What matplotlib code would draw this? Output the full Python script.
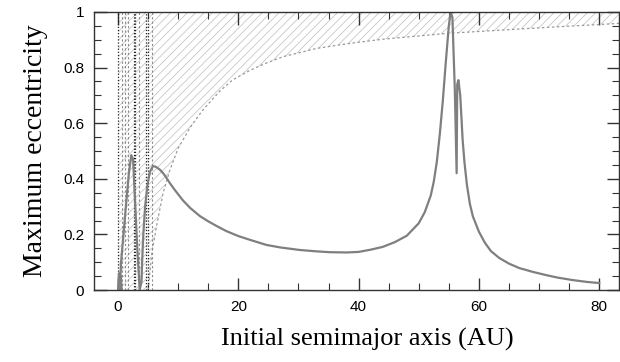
import numpy as np
import matplotlib.pyplot as plt

# max eccentricity curve
a_curve = [0.0, 0.15, 0.3, 0.45, 0.6, 0.3, 0.5, 0.9, 1.3, 1.8, 2.2, 2.5, 2.8, 3.2, 3.6,
           3.9, 4.0, 4.2, 4.5, 4.9, 5.3, 5.8, 6.3, 7.0, 7.5, 8.0, 8.6, 9.5, 10.8, 12.0,
           13.6, 15.0, 16.4, 18.0, 20.0, 22.0, 24.7, 27.0, 30.2, 33.0, 35.2, 38.0,
           40.0, 42.0, 44.0, 46.0, 48.0, 50.0, 51.0, 52.0, 52.5, 53.0, 53.5, 54.0,
           54.5, 55.0, 55.3, 55.6, 56.0, 56.3, 56.4, 56.6, 56.9, 57.3, 57.6, 58.0,
           58.5, 59.0, 60.0, 61.0, 62.0, 63.4, 65.0, 66.7, 69.0, 71.1, 73.0, 75.5,
           78.0, 80.0]
e_curve = [0.0, 0.06, 0.02, 0.05, 0.0, 0.0, 0.1, 0.2, 0.3, 0.42, 0.485, 0.47, 0.33, 0.15, 0.0,
           0.03, 0.1, 0.2, 0.3, 0.38, 0.425, 0.446, 0.443, 0.432, 0.42, 0.405, 0.385,
           0.358, 0.322, 0.295, 0.266, 0.247, 0.230, 0.212, 0.194, 0.18, 0.162, 0.153,
           0.144, 0.139, 0.136, 0.135, 0.137, 0.145, 0.155, 0.172, 0.195, 0.24, 0.28,
           0.34, 0.39, 0.46, 0.56, 0.68, 0.82, 0.95, 1.0, 0.98, 0.72, 0.42, 0.74,
           0.755, 0.70, 0.54, 0.46, 0.38, 0.31, 0.265, 0.21, 0.17, 0.14, 0.115, 0.095,
           0.079, 0.065, 0.054, 0.045, 0.036, 0.029, 0.025]

# lower edge of the unstable (dotted) region
a_edge = [0.0, 5.0, 5.6, 6.4, 7.5, 8.6, 10.0, 12.0, 14.0, 16.9, 19.0, 21.9, 24.5, 27.4,
          33.0, 38.5, 44.0, 54.6, 70.0, 83.3]
e_edge = [0.0, 0.0, 0.13, 0.23, 0.35, 0.43, 0.51, 0.585, 0.645, 0.715, 0.755, 0.79,
          0.815, 0.839, 0.869, 0.887, 0.902, 0.923, 0.943, 0.959]

# dotted vertical orbit traces near the planet
a_vert_dark = [0.0, 2.6, 2.9, 4.6, 4.9]
a_vert_gray = [0.6, 1.1, 1.6, 3.5, 5.6]

plt.rcParams['hatch.linewidth'] = 0.5

fig = plt.figure(figsize=(6.2, 3.62), dpi=100)
ax = fig.add_axes([94/620, 72/362, 525/620, 278/362])

ax.fill_between(a_edge, e_edge, 1, facecolor='none', edgecolor='#bdbdbd',
                hatch='////', linewidth=0)
ax.plot(a_edge[1:], e_edge[1:], color='#9a9a9a', lw=0.9, ls=(0, (2, 2)))
for a in a_vert_dark:
    ax.axvline(a, color='#222222', lw=0.9, ls=(0, (1, 1.5)))
for a in a_vert_gray:
    ax.axvline(a, color='#8a8a8a', lw=0.8, ls=(0, (2, 2)))

ax.plot(a_curve, e_curve, color='#7f7f7f', lw=1.6)

ax.set_xlim(-4, 83.3)
ax.set_ylim(0, 1)
ax.set_xticks([0, 20, 40, 60, 80])
ax.set_xticks(np.arange(0, 81, 5), minor=True)
ax.set_yticks([0, 0.2, 0.4, 0.6, 0.8, 1])
ax.set_yticklabels(['0', '0.2', '0.4', '0.6', '0.8', '1'])
ax.set_yticks(np.arange(0, 1.001, 0.05), minor=True)
ax.tick_params(which='both', direction='in', top=True, right=True,
               labelsize=11, color='#333333')
ax.tick_params(which='major', length=9, width=1)
ax.tick_params(which='minor', length=5, width=0.8)
ax.tick_params(axis='y', pad=7)
ax.tick_params(axis='x', pad=7)
for lab in ax.get_xticklabels() + ax.get_yticklabels():
    lab.set_fontfamily('Liberation Sans')
for s in ax.spines.values():
    s.set_color('#333333')
    s.set_linewidth(1)

ax.set_xlabel("Initial semimajor axis (AU)", fontfamily='Liberation Serif',
              fontsize=19, labelpad=9)
ax.set_ylabel("Maximum eccentricity", fontfamily='Liberation Serif',
              fontsize=20, labelpad=11)
ax.xaxis.set_label_coords(0.521, -0.135)

fig.savefig("out.png", dpi=100)
